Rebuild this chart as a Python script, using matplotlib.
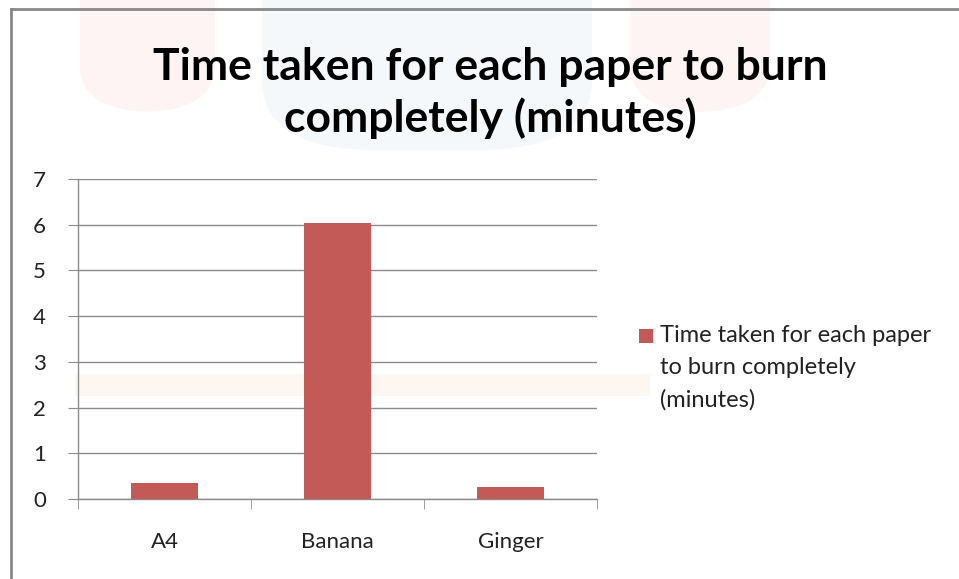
import matplotlib.pyplot as plt
from matplotlib.patches import FancyBboxPatch, Rectangle
from matplotlib.lines import Line2D

# chart data
categories = ['A4', 'Banana', 'Ginger']
burn_minutes = [0.35, 6.04, 0.26]
series_name = 'Time taken for each paper\nto burn completely\n(minutes)'
title = 'Time taken for each paper to burn\ncompletely (minutes)'
y_ticks = [0, 1, 2, 3, 4, 5, 6, 7]

bar_color = '#C45A57'
grid_color = '#8C8C8C'
text_color = '#222222'
font = 'Lato'

fig = plt.figure(figsize=(9.59, 5.79), dpi=100)
fig.patch.set_facecolor('white')

W, H = 959, 579
def fx(px):
    return px / W
def fy(py):
    return 1 - py / H

# faint watermark shapes behind the chart
for x0, w in [(80, 135), (630, 140)]:
    fig.patches.append(FancyBboxPatch((fx(x0), fy(112)), fx(w), 0.3,
                                      boxstyle='round,pad=0,rounding_size=0.08',
                                      transform=fig.transFigure, fc='#FEF4F4', ec='none', zorder=0))
fig.patches.append(FancyBboxPatch((fx(262), fy(150)), fx(330), 0.4,
                                  boxstyle='round,pad=0,rounding_size=0.12',
                                  transform=fig.transFigure, fc='#F5F8FB', ec='none', zorder=0))
fig.patches.append(Rectangle((fx(75), fy(396)), fx(575), 22 / H,
                             transform=fig.transFigure, fc='#FEF7F1', ec='none', zorder=0))

# chart frame (only top and left edges show)
fig.add_artist(Line2D([fx(11), fx(11)], [fy(9), 0], transform=fig.transFigure,
                      color='#888888', lw=2))
fig.add_artist(Line2D([fx(11), 1], [fy(9), fy(9)], transform=fig.transFigure,
                      color='#888888', lw=2))

ax = fig.add_axes([fx(78), fy(499), fx(597) - fx(78), (499 - 179) / H])
ax.set_zorder(3)
ax.patch.set_alpha(0)

x = range(len(categories))
ax.bar(x, burn_minutes, width=0.39, color=bar_color, zorder=3)

ax.set_xlim(-0.5, len(categories) - 0.5)
ax.set_ylim(0, 7)
ax.set_yticks(y_ticks)
ax.set_yticklabels([str(t) for t in y_ticks], family=font, fontsize=16, color=text_color)
ax.set_xticks(list(x))
ax.set_xticklabels(categories, family=font, fontsize=16, color=text_color)
ax.set_xticks([i - 0.5 for i in range(len(categories) + 1)], minor=True)

ax.grid(axis='y', color=grid_color, lw=1, zorder=1)
for s in ['top', 'right']:
    ax.spines[s].set_visible(False)
for s in ['left', 'bottom']:
    ax.spines[s].set_color(grid_color)
    ax.spines[s].set_linewidth(1)
    ax.spines[s].set_zorder(2)

ax.tick_params(axis='y', length=7, color=grid_color, pad=16)
ax.tick_params(axis='x', which='major', length=0, pad=24)
ax.tick_params(axis='x', which='minor', length=7, color=grid_color)

fig.text(fx(490), fy(93), title, family=font, fontweight='bold', fontsize=32,
         ha='center', va='center', linespacing=1.3, color='black')

# legend: square key aligned with the first line of the wrapped series name
fig.patches.append(Rectangle((fx(639), fy(343)), fx(14), 14 / H,
                             transform=fig.transFigure, fc=bar_color, ec='none', zorder=4))
fig.text(fx(660), fy(325), series_name, family=font, fontsize=17, color=text_color,
         ha='left', va='top', linespacing=1.65, zorder=4)

fig.savefig('out.png', dpi=100, facecolor='white')
